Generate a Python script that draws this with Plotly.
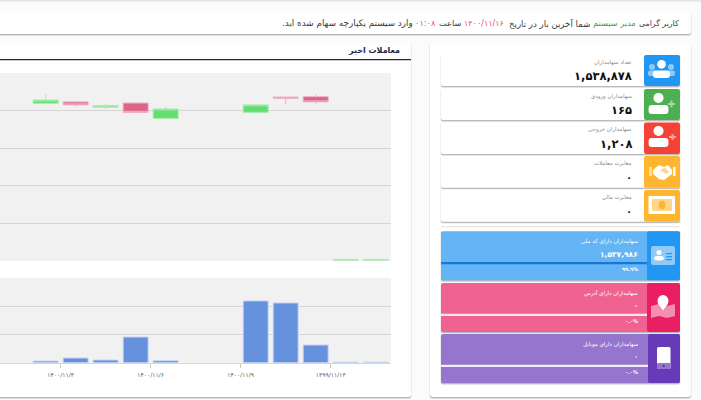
import plotly.graph_objects as go

W, H = 701, 400

# داده‌های نمودار
days = [0, 1, 2, 3, 4, 7, 8, 9, 10, 11]
opens = [419, 423, 409, 420, 379, 395, 436, 437, 0, 0]
highs = [443, 426, 417, 420, 410, 415, 436, 443, 3, 3]
lows = [419, 410, 404, 393, 379, 395, 417, 417, 0, 0]
closes = [428, 415, 413, 395, 404, 415, 433, 423, 3, 3]
volumes = [60, 167, 96, 911, 71, 2188, 2117, 628, 20, 20]
tick_pos = [0.5, 3.5, 6.5, 9.5]
tick_labels = ["۱۴۰۰/۱۱/۳", "۱۴۰۰/۱۱/۶", "۱۴۰۰/۱۱/۹", "۱۳۹۹/۱۱/۱۳"]

small_titles = ["تعداد سهامداران", "سهامداران ورودی", "سهامداران خروجی", "مغایرت معاملات", "مغایرت مالی"]
small_values = ["۱,۵۳۸,۸۷۸", "۱۶۵", "۱,۲۰۸", "۰", "۰"]
big_titles = ["سهامداران دارای کد ملی", "سهامداران دارای آدرس", "سهامداران دارای موبایل"]
big_values = ["۱,۵۳۷,۹۸۶", "۰", "۰"]
big_percents = ["۹۹.۹%", "۰.۰%", "۰.۰%"]

FONT = "DejaVu Sans"


def px(x):
    return x / W


def py(y):
    return 1 - y / H


def rrect(x0, y0, x1, y1, r=2, rl=None, rr=None):
    rl = r if rl is None else rl
    rr = r if rr is None else rr
    return (
        f"M{px(x0 + rl)},{py(y0)} L{px(x1 - rr)},{py(y0)} Q{px(x1)},{py(y0)} {px(x1)},{py(y0 + rr)} "
        f"L{px(x1)},{py(y1 - rr)} Q{px(x1)},{py(y1)} {px(x1 - rr)},{py(y1)} "
        f"L{px(x0 + rl)},{py(y1)} Q{px(x0)},{py(y1)} {px(x0)},{py(y1 - rl)} "
        f"L{px(x0)},{py(y0 + rl)} Q{px(x0)},{py(y0)} {px(x0 + rl)},{py(y0)} Z"
    )


shapes = []
notes = []


def box(x0, y0, x1, y1, color, r=2, rl=None, rr=None):
    shapes.append(dict(type="path", path=rrect(x0, y0, x1, y1, r, rl, rr), xref="paper", yref="paper",
                       fillcolor=color, line_width=0, layer="below"))


def shadow_card(x0, y0, x1, y1, color="#ffffff", r=2):
    box(x0 - 1, y0, x1 + 1, y1 + 2, "rgba(0,0,0,0.06)", r + 1)
    box(x0, y0 + 1, x1, y1 + 1.2, "rgba(0,0,0,0.22)", r)
    box(x0, y0, x1, y1, color, r)


def ell(cx, cy, rx, ry, color):
    shapes.append(dict(type="circle", xref="paper", yref="paper", x0=px(cx - rx), x1=px(cx + rx),
                       y0=py(cy + ry), y1=py(cy - ry), fillcolor=color, line_width=0, layer="below"))


def poly(points, color):
    path = "M" + " L".join(f"{px(x)},{py(y)}" for x, y in points) + " Z"
    shapes.append(dict(type="path", path=path, xref="paper", yref="paper", fillcolor=color,
                       line_width=0, layer="below"))


def person(cx, top, s, color="#ffffff"):
    ell(cx, top + 4.5 * s, 4.6 * s, 4.6 * s, color)
    box(cx - 9 * s, top + 11 * s, cx + 9 * s, top + 19 * s, color, 1, 3, 3)


def text(x, y, s, size, color, bold=False, anchor="right"):
    if bold:
        s = f"<b>{s}</b>"
    notes.append(dict(x=px(x), y=py(y), xref="paper", yref="paper", text=s, showarrow=False,
                      xanchor=anchor, yanchor="middle", align=anchor, borderpad=0, borderwidth=0,
                      font=dict(family=FONT, size=size, color=color)))


# پس زمینه و کارت‌ها
box(-5, -5, W + 5, 1.5, "#e4e4e4", 0)
shadow_card(-10, 13, 691, 34)
shadow_card(-10, 43, 411, 397)
shadow_card(430, 43, 691, 397, "#ffffff", 3)
box(0, 59, 411, 60.2, "#1b2748", 0)
text(400, 50.5, "معاملات اخیر", 8, "#1b2748", True)
box(0, 73, 391, 261, "#f1f1f1", 0)
box(0, 278, 391, 362.7, "#f1f1f1", 0)

# پیام بالای صفحه
msg = [(679, "کاربر گرامی", "#3a3a3a", 7.8), (636, "مدیر سیستم", "#43a047", 8.2),
       (590, "شما آخرین بار در تاریخ", "#3a3a3a", 8.6), (504, "۱۴۰۰/۱۱/۱۶", "#f44a5a", 8),
       (461, "ساعت", "#3a3a3a", 8.2), (436, "۰۱:۰۸", "#f44a5a", 8.2),
       (413, "وارد سیستم یکپارچه سهام شده اید.\u200f", "#3a3a3a", 8.8)]
for x, s, c, size in msg:
    text(x, 23, s, size, c)

# کارت‌های کوچک
small_top = [55, 89, 122.5, 156, 190]
small_bottom = [86, 120, 154, 187.7, 221.7]
small_colors = ["#2196f3", "#4caf50", "#f44336", "#ffb62e", "#ffb62e"]
for i in range(5):
    y0, y1 = small_top[i], small_bottom[i]
    shadow_card(441, y0, 680, y1)
    box(644, y0, 680, y1, small_colors[i], 2)
    text(632, y0 + 7.5, small_titles[i], 5.5, "#8a8a8a")
    text(632, y0 + 21, small_values[i], 11.5 if i < 3 else 10, "#111111", True)

# آیکن‌ها
ell(652, 67, 3, 3, "#90caf9")
ell(671, 67, 3, 3, "#90caf9")
box(648, 70.5, 658, 76, "#90caf9", 2)
box(666, 70.5, 675, 76, "#90caf9", 2)
person(661.5, 60, 0.95)
person(658.5, 93, 1.1)
box(668, 103, 675, 105, "#a5d6a7", 0)
box(670.5, 100.5, 672.5, 107.5, "#a5d6a7", 0)
person(658.5, 126, 1.1)
box(669, 136, 676, 138, "#f8a09a", 0)
box(671.5, 134, 673.5, 140, "#f8a09a", 0)
poly([(653, 170), (659, 165), (664, 167), (668, 165), (672, 170), (672, 174),
      (664, 180), (659, 179), (653, 174)], "#ffffff")
poly([(660, 170), (665, 167.5), (669, 172), (666, 174)], "#ffd78c")
box(649, 167, 652, 176, "#ffdb99", 0)
box(673, 167, 675.5, 176, "#ffffff", 0)
box(648.5, 196, 675, 214, "#ffffff", 1)
box(652, 199, 672, 211, "#ffd78c", 1)
ell(662, 205, 3.5, 4.5, "#ffb62e")

box(441, 226, 680, 227.3, "#e6e6e6", 0)

# کارت‌های بزرگ
big_top = [231.3, 283, 334]
big_bottom = [280.3, 332, 383]
big_light = ["#64b5f6", "#f06292", "#9575cd"]
big_dark = ["#2196f3", "#e91e63", "#673ab7"]
big_line = ["#1976d2", "#f8e4ec", "#f0ecf8"]
for i in range(3):
    y0, y1 = big_top[i], big_bottom[i]
    shadow_card(441, y0, 680, y1, big_light[i])
    box(647 + (1 if i == 2 else 0), y0, 680, y1, big_dark[i], 2)
    box(441, y0 + 30.7, 647 + (1 if i == 2 else 0), y0 + 33, big_line[i], 0)
    text(638, y0 + 10, big_titles[i], 5.5, "#ffffff")
    text(638, y0 + 23, big_values[i], 7.5 if i == 0 else 7, "#ffffff", True)
    text(638, y0 + 38, big_percents[i], 5, "#ffffff", True)

box(651, 246, 675, 265, "#90caf9", 2)
person(659, 250, 0.55)
box(666, 253, 672, 254.3, "#2196f3", 0)
box(666, 256, 672, 257.3, "#2196f3", 0)
box(666, 259, 672, 260.3, "#2196f3", 0)
poly([(651, 306), (659, 304), (667, 306), (675, 304), (675, 316), (667, 318), (659, 316), (651, 318)], "#f48fb1")
ell(663, 301, 5.5, 6, "#ffffff")
poly([(657.7, 303), (668.3, 303), (663, 310.5)], "#ffffff")
box(657, 347, 670.5, 369, "#ffffff", 1.5)
box(657, 363, 670.5, 369, "#9575cd", 1)
ell(663.7, 366, 1, 1, "#4a2a90")

fig = go.Figure()

fig.add_trace(go.Candlestick(
    x=days, open=opens, high=highs, low=lows, close=closes,
    increasing=dict(fillcolor="#63dd6e", line=dict(color="#a8ecae", width=1)),
    decreasing=dict(fillcolor="#dd6688", line=dict(color="#eeb2c4", width=1)),
    whiskerwidth=0, xaxis="x", yaxis="y",
))
fig.add_trace(go.Bar(
    x=days, y=volumes, marker=dict(color="#6691dd", line=dict(color="#c8d6f2", width=1)),
    xaxis="x2", yaxis="y2",
))

x_range = [-1.52, 11.51]
fig.update_layout(
    width=W, height=H, autosize=False,
    margin=dict(l=0, r=0, t=0, b=0),
    paper_bgcolor="#fbfbfb", plot_bgcolor="rgba(0,0,0,0)",
    showlegend=False, bargap=0.167, boxgap=0.167, boxgroupgap=0,
    font=dict(family=FONT),
    xaxis=dict(domain=[0, 391 / W], range=x_range, rangeslider=dict(visible=False),
               showgrid=False, showticklabels=False, ticks="", zeroline=False),
    yaxis=dict(domain=[py(260.5), py(73)], range=[0, 500], dtick=100, showgrid=True,
               gridcolor="#d6d6d6", gridwidth=1, showticklabels=False, ticks="", zeroline=False),
    xaxis2=dict(domain=[0, 391 / W], range=x_range, anchor="y2", tickmode="array", tickvals=tick_pos,
                ticktext=tick_labels, ticks="outside", ticklen=4, tickcolor="#c8c8c8", showgrid=False,
                showline=True, linecolor="#d6d6d6", zeroline=False, ticklabelstandoff=2,
                tickfont=dict(family=FONT, size=6, color="#555555")),
    yaxis2=dict(domain=[py(362.7), py(278)], range=[0, 3000], dtick=1000, showgrid=True,
                gridcolor="#d6d6d6", gridwidth=1, showticklabels=False, ticks="", zeroline=False),
    shapes=shapes, annotations=notes,
)

fig.write_html("out.html", config={"displayModeBar": False},
               post_script="document.body.style.margin = '0';")
